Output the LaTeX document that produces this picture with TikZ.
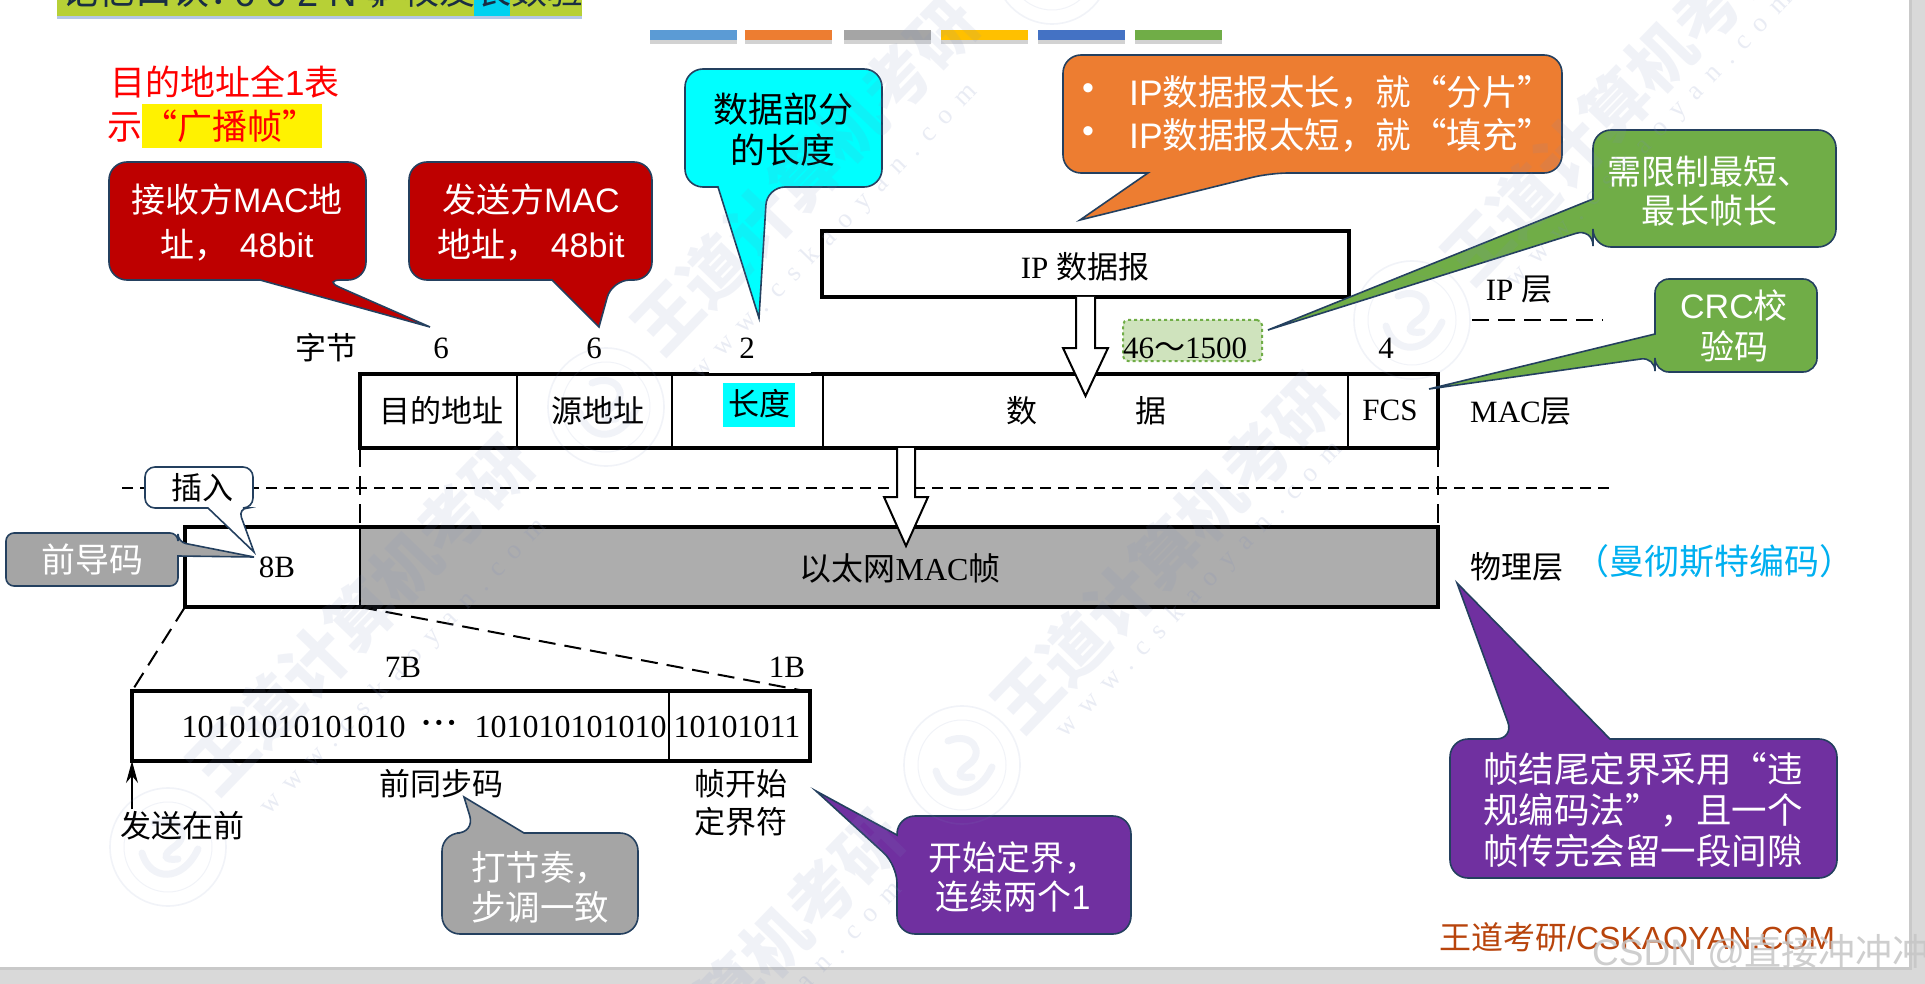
\documentclass[tikz,border=0pt]{standalone}
\usepackage{fontspec}
\setmainfont{Liberation Serif}
\newfontfamily\zh{Noto Sans CJK SC}
\newfontfamily\arial{Liberation Sans}
\newfontfamily\wmf[LetterSpace=45]{Liberation Serif}
\usetikzlibrary{arrows.meta,calc}
\definecolor{edgec}{HTML}{24405F}
\definecolor{redc}{HTML}{BE0000}
\definecolor{cyanc}{HTML}{00FFFF}
\definecolor{orangec}{HTML}{ED7D31}
\definecolor{greenc}{HTML}{70AD47}
\definecolor{grayc}{HTML}{A5A5A5}
\definecolor{purplec}{HTML}{7030A0}
\definecolor{framegray}{HTML}{ADADAD}
\definecolor{wmc}{HTML}{7C8CBE}
\definecolor{banline}{HTML}{B4C7E7}
\definecolor{bangreen}{HTML}{B7D036}
\definecolor{bancyan}{HTML}{00D2F0}
\definecolor{sizefill}{HTML}{CFE3BD}
\definecolor{bluetxt}{HTML}{00B0F0}
\definecolor{foottxt}{HTML}{B8440C}
\definecolor{bara}{HTML}{5B9BD5}
\definecolor{barb}{HTML}{ED7D31}
\definecolor{barc}{HTML}{A5A5A5}
\definecolor{bard}{HTML}{FFC000}
\definecolor{bare}{HTML}{4472C4}
\definecolor{barf}{HTML}{70AD47}
\newcommand{\zz}[1]{{\zh #1}}
\newcommand{\la}[1]{{\arial #1}}
\newcommand{\wmband}[3]{\node[rotate=46,text=wmc,opacity=.11,font=\zh\bfseries\fontsize{66}{70}\selectfont] (#1) at (#2,#3) {王道计算机考研};}
\newcommand{\wmline}[3]{\node[rotate=46,text=wmc,opacity=.16,font=\wmf\fontsize{27}{30}\selectfont] (#1) at (#2,#3) {www.cskaoyan.com};}
\newcommand{\wmlogo}[2]{%
  \begin{scope}[shift={(#1,#2)},draw=wmc,opacity=.1]
    \draw[line width=1.6pt] (0,0) ellipse [x radius=58,y radius=59];
    \draw[line width=1pt] (0,0) ellipse [x radius=44,y radius=45];
    \draw[line width=7pt,line cap=round] (-14,-24) .. controls (10,-34) and (24,-12) .. (6,0) .. controls (-6,8) and (-4,14) .. (10,12);
    \draw[line width=7pt,line cap=round] (-26,6) .. controls (-18,34) and (14,36) .. (30,2);
  \end{scope}}
\tikzset{
  callout/.style={draw=edgec,line width=1.6pt,fill=#1},
  wtext/.style={text=white,align=center,inner sep=0pt,font=\zh\fontsize{34}{45}\selectfont},
  lab/.style={text=black,inner sep=0pt,align=center,font=\fontsize{31}{37}\selectfont},
  frame/.style={draw=black,line width=3.5pt,inner sep=0pt,outer sep=0pt,anchor=north west},
  cell/.style={draw=black,line width=1.6pt},
  hollow/.style={draw=black,fill=white,line width=2pt,line join=miter},
  thindash/.style={draw=black,line width=1.4pt,dash pattern=on 19pt off 9pt},
  zoomdash/.style={draw=black,line width=2pt,dash pattern=on 17pt off 9pt}
}
\begin{document}
\begin{tikzpicture}[x=1pt,y=-1pt]
\useasboundingbox (0,0) rectangle (1925,984);
\clip (0,0) rectangle (1925,984);
\fill[white] (0,0) rectangle (1925,984);
% page margin
\fill[gray!30] (1909,0) rectangle (1925,984);
\fill[gray!30] (0,967) rectangle (1925,984);
\fill[gray!42] (1909,0) rectangle (1912,970);
\fill[gray!42] (0,967) rectangle (1912,970);
% banner
\fill[banline] (57,16) rectangle (582,19);
\fill[bangreen] (57,0) rectangle (582,16);
\fill[bancyan] (474,0) rectangle (510,16);
\node[anchor=base west,inner sep=0pt,text=edgec!70!black,font=\zh\fontsize{37}{40}\selectfont] (ban1) at (61,5) {记忆口诀：};
\node[anchor=base west,inner sep=0pt,text=edgec!70!black,font=\arial\fontsize{38}{40}\selectfont] (ban2) at (234,7) {6 6 2 N 4};
\node[anchor=base west,inner sep=0pt,text=edgec!70!black,font=\zh\fontsize{36}{40}\selectfont] (ban3) at (367,5) {，};
\node[anchor=base west,inner sep=0pt,text=edgec!70!black,font=\zh\fontsize{36}{40}\selectfont] (ban4) at (403,5) {校友长数验};
% colour bars
\foreach \xx/\cc in {650/bara,745/barb,844/barc,941/bard,1038/bare,1135/barf}{
  \fill[gray!35] (\xx,40) rectangle ++(87,4);
  \fill[\cc] (\xx,30) rectangle ++(87,10);
}
% red note
\fill[yellow] (142,104) rectangle (322,148);
\node[anchor=west,inner sep=0pt,text=red,font=\zh\fontsize{35}{40}\selectfont] (bc1) at (110,82) {目的地址全\la{1}表};
\node[anchor=west,inner sep=0pt,text=red,font=\zh\fontsize{35}{40}\selectfont] (bc2) at (107,126) {示“广播帧”};
% ---- frames
\node[frame,minimum width=527pt,minimum height=66pt] (ip) at (822,231) {};
\node[lab] (iplab) at (1085,267) {IP \zz{数据报}};
\node[frame,minimum width=1078pt,minimum height=74pt] (mac) at (360,374) {};
\foreach \xx in {517,672,823,1348}{ \draw[cell] (\xx,374) -- (\xx,448); }
\draw[white,line width=1pt] (709,372.6) -- (811,372.6);
% dashed lines
\draw[zoomdash,dash pattern=on 11pt off 7pt] (122,488) -- (1612,488);
\draw[zoomdash,line width=2.5pt] (1472,320) -- (1603,320);
% green size box
\node[draw=greenc,fill=sizefill,line width=2pt,dashed,rounded corners=5pt,inner sep=0pt,outer sep=0pt,anchor=north west,minimum width=139pt,minimum height=41pt] (sz) at (1123,320) {};
\node[lab] (szt) at (1185,348) {46\zz{～}1500};
% labels
\node[lab] (zj) at (326,348) {\zz{字节}};
\node[lab] (n6a) at (441,348) {6};
\node[lab] (n6b) at (594,348) {6};
\node[lab] (n2) at (747,348) {2};
\node[lab] (n4) at (1386,348) {4};
\fill[cyanc] (723,383) rectangle (795,427);
\node[lab] (f1) at (441,411) {\zz{目的地址}};
\node[lab] (f2) at (598,411) {\zz{源地址}};
\node[lab] (f3) at (759,404) {\zz{长度}};
\node[lab] (f4a) at (1022,411) {\zz{数}};
\node[lab] (f4b) at (1151,411) {\zz{据}};
\node[lab] (f5) at (1390,410) {FCS};
\node[lab] (l1) at (1519,290) {IP \zz{层}};
\node[lab] (l2) at (1521,412) {MAC\zz{层}};
\node[lab] (l3) at (1517,567) {\zz{物理层}};
\node[anchor=west,inner sep=0pt,text=bluetxt,font=\zh\fontsize{35}{40}\selectfont] (l4) at (1574,561) {（曼彻斯特编码）};
% physical frame
\node[frame,minimum width=1253pt,minimum height=80pt] (phys) at (185,527) {};
\node[fill=framegray,inner sep=0pt,outer sep=0pt,anchor=north west,minimum width=1078pt,minimum height=80pt] (pay) at (360,527) {};
\draw[draw=black,line width=3.5pt] (pay.north west) -- (pay.north east) -- (pay.south east) -- (pay.south west);
\draw[cell] (pay.north west) -- (pay.south west);
\node[lab] (by8) at (277,567) {8B};
\node[lab,font=\fontsize{32}{38}\selectfont] (macf) at (900,568) {\zz{以太网}MAC\zz{帧}};
% vertical thin dashes
\draw[thindash] (mac.south west) -- (pay.north west);
\draw[thindash] (mac.south east) -- (pay.north east);
% hollow arrows
\coordinate (a1tip) at (1085.5,396);
\coordinate (a2tip) at (906,546);
\draw[hollow] ([xshift=-9.5pt]ip.south) -- ++(0,51) -- ++(-13,0) -- (a1tip) -- ++(22.5,-48) -- ++(-13,0) -- ([xshift=9.5pt]ip.south);
\draw[hollow] (897,448) -- (897,497) -- (884,497) -- (a2tip) -- (928,497) -- (915,497) -- (915,448);
% preamble detail
\node[frame,minimum width=678pt,minimum height=70pt] (pre) at (132,691) {};
\draw[cell] (669,691) -- (669,761);
\node[lab,font=\fontsize{32}{38}\selectfont] (b1) at (293.5,727) {10101010101010};
\node[lab,font=\bfseries\fontsize{32}{38}\selectfont] (b2) at (439,727) {·\kern2pt·\kern2pt·};
\node[lab,font=\fontsize{32}{38}\selectfont] (b3) at (570.5,727) {101010101010};
\node[lab,font=\fontsize{32}{38}\selectfont] (b4) at (737,727) {10101011};
\node[lab] (b7) at (403,667) {7B};
\node[lab] (b1b) at (787,667) {1B};
\node[lab] (qt) at (441,784) {\zz{前同步码}};
\node[lab,font=\fontsize{31}{38.5}\selectfont] (zk) at (741,803) {\zz{帧开始}\\\zz{定界符}};
\node[lab] (fs) at (182,826) {\zz{发送在前}};
\draw[zoomdash] (phys.south west) -- (pre.north west);
\draw[zoomdash] (pay.south west) -- ([xshift=-5pt]pre.north east);
\draw[line width=1.4pt,-{Stealth[length=22pt,width=12pt]}] ([yshift=2pt]pre.south west |- fs.north) -- (pre.south west);
% callouts
\begin{scope}[rounded corners=18pt]
\draw[callout=redc] (109,220) -- (109,162) -- (366,162) -- (366,280) -- (323,280) [sharp corners] -- (430,327) -- (260,280) [rounded corners=18pt] -- (109,280) -- cycle;
\draw[callout=redc] (409,220) -- (409,162) -- (652,162) -- (652,280) -- (612,280) [sharp corners] -- (599,327) -- (552,280) [rounded corners=18pt] -- (409,280) -- cycle;
\draw[callout=cyanc] (685,120) -- (685,69) -- (882,69) -- (882,187) -- (767,187) [sharp corners] -- (759,318) -- (718,187) [rounded corners=18pt] -- (685,187) -- cycle;
\draw[callout=orangec] (1063,110) -- (1063,55) -- (1562,55) -- (1562,173) -- (1270,173) [sharp corners] -- (1080,220) -- (1148,173) [rounded corners=18pt] -- (1063,173) -- cycle;
\draw[callout=greenc] (1700,130) -- (1836,130) -- (1836,247) -- (1593,247) -- (1593,228) [sharp corners] -- (1268,330) -- (1593,199) [rounded corners=18pt] -- (1593,130) -- cycle;
\draw[callout=grayc] (442,880) -- (442,833) -- (475,833) [sharp corners] -- (464,797) -- (524,833) [rounded corners=18pt] -- (638,833) -- (638,934) -- (442,934) -- cycle;
\draw[callout=purplec] (1013,816) -- (1131,816) -- (1131,934) -- (897,934) -- (897,865) [sharp corners] -- (816,791) -- (897,835) [rounded corners=18pt] -- (897,816) -- cycle;
\draw[callout=purplec] (1450,810) -- (1450,739) -- (1514,739) [sharp corners] -- (1457,583) -- (1610,739) [rounded corners=18pt] -- (1837,739) -- (1837,878) -- (1450,878) -- cycle;
\end{scope}
\draw[callout=greenc,rounded corners=14pt] (1730,279) -- (1817,279) -- (1817,372) -- (1655,372) -- (1655,357) [sharp corners] -- (1429,389) -- (1655,334) [rounded corners=14pt] -- (1655,279) -- cycle;
\draw[callout=white,rounded corners=10pt] (200,467) -- (253,467) -- (253,508) -- (238,508) [sharp corners] -- (254,552) -- (208,508) [rounded corners=10pt] -- (145,508) -- (145,467) -- cycle;
\draw[callout=grayc,rounded corners=8pt] (90,533) -- (178,533) -- (178,542) [sharp corners] -- (254,557) -- (178,556) [rounded corners=8pt] -- (178,586) -- (6,586) -- (6,533) -- cycle;
% callout texts
\node[wtext] (c1) at (237,222) {接收方\la{MAC}地\\址，\,\,\la{48bit}};
\node[wtext] (c2) at (531,222) {发送方\la{MAC}\\地址，\,\,\la{48bit}};
\node[wtext,text=black,font=\zh\fontsize{35}{41}\selectfont] (c3) at (783,130) {数据部分\\的长度};
\node[wtext,anchor=west,font=\zh\fontsize{35.5}{40}\selectfont] (c4a) at (1129,92) {\la{IP}数据报太长，就“分片”};
\node[wtext,anchor=west,font=\zh\fontsize{35.5}{40}\selectfont] (c4b) at (1129,135) {\la{IP}数据报太短，就“填充”};
\node[text=white,inner sep=0pt,font=\arial\fontsize{34}{36}\selectfont] (d1) at (1088,92) {•};
\node[text=white,inner sep=0pt,font=\arial\fontsize{34}{36}\selectfont] (d2) at (1088,135) {•};
\node[wtext,font=\zh\fontsize{34}{39}\selectfont] (c5) at (1709,191) {需限制最短、\\最长帧长};
\node[wtext,font=\zh\fontsize{34}{41}\selectfont] (c6) at (1734,326) {\la{CRC}校\\验码};
\node[wtext,font=\zh\fontsize{31}{36}\selectfont,text=black] (c7) at (202,488) {插入};
\node[wtext,font=\zh\fontsize{34}{40}\selectfont] (c8) at (92,559) {前导码};
\node[wtext,align=left,font=\zh\fontsize{34.5}{40}\selectfont] (c9) at (540,887) {打节奏，\\步调一致};
\node[wtext,font=\zh\fontsize{34}{39}\selectfont] (c10) at (1013,877) {开始定界，\\连续两个\la{1}};
\node[wtext,font=\zh\fontsize{35.5}{41}\selectfont] (c11) at (1643,810) {帧结尾定界采用“违\\规编码法”，且一个\\帧传完会留一段间隙};
% footer
\node[anchor=west,inner sep=0pt,text=foottxt,font=\zh\fontsize{32}{36}\selectfont] (ft) at (1439,937) {王道考研\la{/CSKAOYAN.COM}};
% watermarks
\wmband{w1}{805}{175}\wmband{w2}{360}{615}\wmband{w3}{1165}{553}\wmband{w4}{1615}{105}\wmband{w5}{730}{990}
\wmline{s1}{835}{232}\wmline{s2}{404}{667}\wmline{s3}{1200}{590}\wmline{s4}{1650}{140}\wmline{s5}{760}{1030}
\wmlogo{606}{407}\wmlogo{1412}{320}\wmlogo{168}{847}\wmlogo{962}{765}\wmlogo{1052}{-35}
\node[anchor=west,inner sep=0pt,text=gray!45,opacity=.85,font=\arial\fontsize{37}{40}\selectfont] (csdn) at (1592,952) {CSDN @\zz{直接冲冲冲}};
\end{tikzpicture}
\end{document}
